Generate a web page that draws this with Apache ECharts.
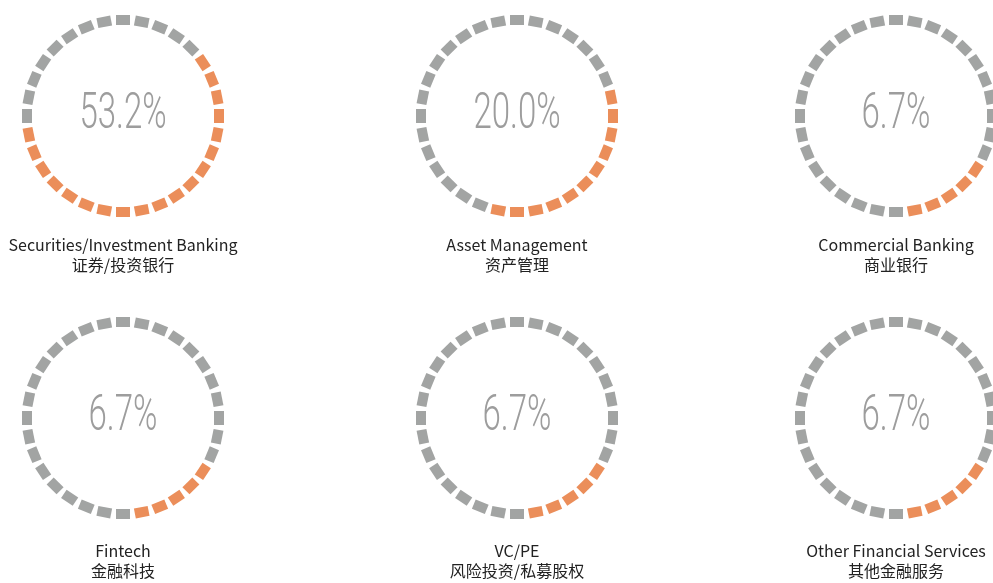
<!DOCTYPE html>
<html>
<head>
  <meta charset="UTF-8">
  <title>Industry distribution</title>
  <style>
    html, body { margin: 0; padding: 0; background: #fff; overflow: hidden; }
    #chart { width: 993px; height: 583px; }
  </style>
</head>
<body>
  <div id="chart"></div>
  <script src="https://cdn.jsdelivr.net/npm/echarts@6/dist/echarts.min.js"></script>
  <script type="text/javascript">
    var namesEn = ['Securities/Investment Banking', 'Asset Management', 'Commercial Banking',
      'Fintech', 'VC/PE', 'Other Financial Services'];
    var namesZh = ['证券/投资银行', '资产管理', '商业银行', '金融科技', '风险投资/私募股权', '其他金融服务'];
    var shares = [53.2, 20.0, 6.7, 6.7, 6.7, 6.7];
    // orange dashes, counted clockwise from the one at 12 o'clock
    var litFrom = [5, 7, 11, 11, 11, 11];
    var litTo = [23, 17, 15, 15, 15, 15];
    var dashCount = 32;

    var colX = [123, 517, 896];
    var rowY = [116, 418];
    var labelY = [255, 561];
    var gray = '#a2a4a3', orange = '#eb8e5a';

    var chart = echarts.init(document.getElementById('chart'));

    var series = [], texts = [];
    shares.forEach(function (v, i) {
      var row = Math.floor(i / 3);
      var cx = colX[i % 3], cy = rowY[row];
      series.push({
        type: 'gauge',
        center: [cx, cy],
        radius: 101,
        startAngle: 90,
        endAngle: -270,
        min: 0,
        max: dashCount,
        splitNumber: dashCount,
        silent: true,
        axisLine: {
          show: false,
          lineStyle: {
            width: 0,
            color: [
              [(litFrom[i] - 0.5) / dashCount, gray],
              [(litTo[i] + 0.5) / dashCount, orange],
              [1, gray]
            ]
          }
        },
        splitLine: { show: true, distance: 0, length: 10, lineStyle: { color: 'auto', width: 14 } },
        axisTick: { show: false },
        axisLabel: { show: false },
        pointer: { show: false },
        anchor: { show: false },
        progress: { show: false },
        detail: { show: false },
        title: {
          show: true,
          offsetCenter: [0, labelY[row] - cy],
          color: '#222',
          fontSize: 16,
          lineHeight: 20,
          fontFamily: 'Noto Sans CJK SC'
        },
        data: [{ value: v, name: namesEn[i] + '\n' + namesZh[i] }]
      });
      texts.push({
        type: 'text',
        x: cx,
        y: cy - 1,
        scaleX: 0.66,
        silent: true,
        style: {
          text: v.toFixed(1) + '%',
          font: '300 50px Roboto',
          fill: '#9d9d9d',
          align: 'center',
          verticalAlign: 'middle'
        }
      });
    });

    chart.setOption({
      backgroundColor: '#fff',
      animation: false,
      series: series,
      graphic: texts
    });
  </script>
</body>
</html>
